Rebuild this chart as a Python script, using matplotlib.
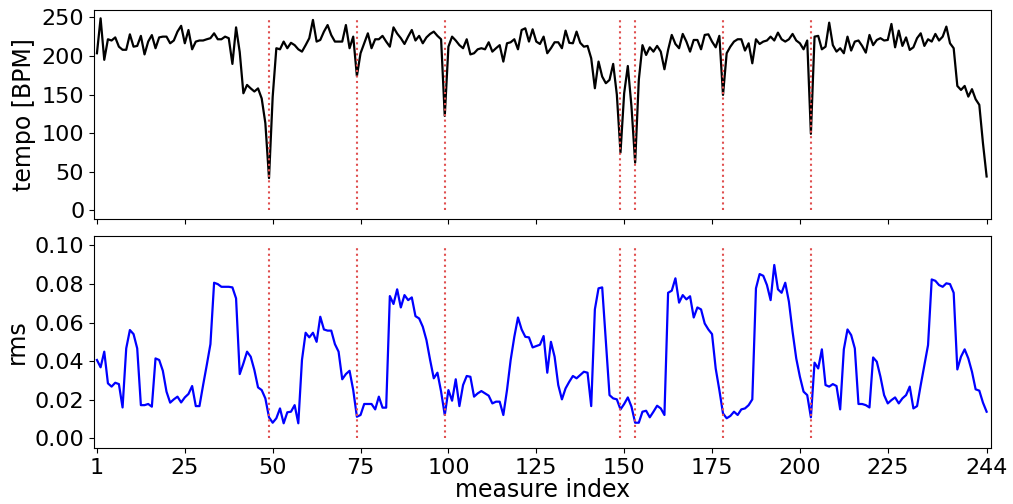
import matplotlib
matplotlib.use("Agg")
import matplotlib.pyplot as plt
import numpy as np

# Tempo per measure (BPM)
tempo = [
    203.5, 248.7, 195, 221.6, 220, 224, 212, 208, 208, 228,
    212, 213, 226, 202, 218.6, 227, 210, 224, 225, 225,
    216.4, 220, 231.5, 239, 216.4, 233.6, 208.6, 218.6, 220, 220,
    221.6, 223, 229.3, 221.6, 221.6, 225, 223, 189.7, 237, 205,
    151.7, 162.5, 158, 154, 158, 145, 113, 41.9, 147, 210,
    208.6, 218.6, 210, 217, 214, 208.6, 205.6, 214, 223, 246.6,
    218.6, 220.7, 231.5, 240, 227, 218.6, 218.6, 218.6, 240, 210,
    225, 174, 203.5, 216.4, 229.3, 210, 221.6, 221.6, 226, 218.6,
    212, 237, 229, 223, 215.5, 225, 233.6, 220, 226, 216.4,
    224, 228.5, 231.5, 226, 221.6, 122.4, 212, 225, 220, 214,
    210, 221.6, 202, 203.5, 208.6, 210, 208.6, 217.7, 205.6, 210,
    214, 192.7, 216.4, 217.7, 221.6, 208.6, 233.6, 235.8, 218.6, 234.5,
    218.6, 215.5, 225, 203.5, 210, 217.7, 217.7, 210, 232.8, 217,
    216.4, 231.5, 217, 212, 213, 197, 158.2, 192.7, 173.3, 164.7,
    169, 189.7, 150, 75, 151.7, 187, 134.5, 62, 169, 214,
    201.3, 211.2, 205.6, 213, 205.6, 182.8, 207.8, 227.2, 215.5, 210,
    228.5, 218.6, 205.6, 220.7, 220.7, 208.6, 227.2, 228, 218.6, 211.2,
    226, 149.6, 203.5, 212, 218.6, 221.6, 221.6, 207, 216.4, 190.5,
    221.6, 215.5, 218.6, 220, 225, 220, 230.2, 221.6, 218.6, 221.6,
    228.5, 220, 216.4, 208.6, 220, 99.2, 225, 226, 208.6, 212,
    243.1, 214, 205.6, 210, 203.5, 225, 207, 218.6, 220, 213,
    204.3, 227.2, 214, 220.7, 223, 220, 220.7, 241.4, 211.2, 232.8,
    213, 224, 207.8, 211.2, 223, 229.3, 213, 221.6, 218.6, 228.5,
    220, 225, 238, 216.4, 210, 161.2, 156, 161.2, 147.4, 157,
    144, 136.7, 87, 44,
]

# RMS loudness per measure
rms = [
    0.0406, 0.0368, 0.0449, 0.0285, 0.0268, 0.0288, 0.0281, 0.0160, 0.0466, 0.0561,
    0.0540, 0.0466, 0.0172, 0.0172, 0.0178, 0.0164, 0.0414, 0.0406, 0.0350, 0.0242,
    0.0185, 0.0202, 0.0216, 0.0186, 0.0212, 0.0230, 0.0271, 0.0167, 0.0167, 0.0276,
    0.0380, 0.0488, 0.0806, 0.0799, 0.0785, 0.0785, 0.0785, 0.0782, 0.0725, 0.0333,
    0.0388, 0.0449, 0.0423, 0.0354, 0.0264, 0.0250, 0.0207, 0.0109, 0.0081, 0.0104,
    0.0155, 0.0078, 0.0135, 0.0138, 0.0172, 0.0078, 0.0406, 0.0547, 0.0523, 0.0547,
    0.0500, 0.0630, 0.0564, 0.0558, 0.0558, 0.0488, 0.0449, 0.0306, 0.0333, 0.0350,
    0.0250, 0.0112, 0.0121, 0.0178, 0.0178, 0.0178, 0.0150, 0.0216, 0.0159, 0.0159,
    0.0737, 0.0696, 0.0772, 0.0678, 0.0742, 0.0716, 0.0730, 0.0633, 0.0621, 0.0578,
    0.0509, 0.0406, 0.0311, 0.0340, 0.0242, 0.0121, 0.0250, 0.0195, 0.0306, 0.0167,
    0.0276, 0.0323, 0.0319, 0.0216, 0.0233, 0.0245, 0.0233, 0.0221, 0.0181, 0.0190,
    0.0190, 0.0121, 0.0250, 0.0406, 0.0526, 0.0626, 0.0564, 0.0526, 0.0523, 0.0471,
    0.0478, 0.0485, 0.0530, 0.0340, 0.0500, 0.0423, 0.0276, 0.0202, 0.0259, 0.0293,
    0.0323, 0.0311, 0.0328, 0.0345, 0.0340, 0.0167, 0.0668, 0.0777, 0.0782, 0.0500,
    0.0224, 0.0207, 0.0202, 0.0150, 0.0178, 0.0212, 0.0164, 0.0081, 0.0081, 0.0138,
    0.0143, 0.0109, 0.0138, 0.0169, 0.0155, 0.0121, 0.0754, 0.0765, 0.0829, 0.0703,
    0.0742, 0.0720, 0.0736, 0.0626, 0.0678, 0.0668, 0.0595, 0.0564, 0.0540, 0.0362,
    0.0250, 0.0129, 0.0104, 0.0116, 0.0138, 0.0121, 0.0150, 0.0155, 0.0172, 0.0202,
    0.0777, 0.0851, 0.0842, 0.0794, 0.0716, 0.0898, 0.0772, 0.0754, 0.0806, 0.0708,
    0.0552, 0.0414, 0.0319, 0.0242, 0.0224, 0.0109, 0.0392, 0.0362, 0.0461, 0.0276,
    0.0268, 0.0281, 0.0271, 0.0150, 0.0461, 0.0564, 0.0535, 0.0466, 0.0178, 0.0178,
    0.0172, 0.0160, 0.0419, 0.0397, 0.0319, 0.0224, 0.0181, 0.0198, 0.0212, 0.0181,
    0.0207, 0.0224, 0.0268, 0.0155, 0.0167, 0.0276, 0.0380, 0.0483, 0.0823, 0.0816,
    0.0794, 0.0785, 0.0803, 0.0799, 0.0754, 0.0357, 0.0423, 0.0461, 0.0414, 0.0345,
    0.0254, 0.0247, 0.0185, 0.0138,
]

# Section boundaries (0-based measure positions)
boundaries = [47, 71, 95, 143, 147, 171, 195]

# x-axis ticks: positions and their labels
tick_pos = [0, 24, 48, 72, 96, 120, 144, 168, 192, 216, 243]
tick_lbl = ["1", "25", "50", "75", "100", "125", "150", "175", "200", "225", "244"]

x = np.arange(len(tempo))
tick_fs = 16
label_fs = 17

fig = plt.figure(figsize=(10.13, 5.04), dpi=100)
ax1 = fig.add_axes([0.0928, 0.5655, 0.8855, 0.4147])
ax2 = fig.add_axes([0.0928, 0.1111, 0.8855, 0.4206], sharex=ax1)

ax1.plot(x, tempo, color="black", lw=1.6)
ax1.vlines(boundaries, 0, 250, colors="#e05050", linestyles=":", lw=1.5)
ax1.set_ylim(-11, 259.5)
ax1.set_yticks([0, 50, 100, 150, 200, 250])
ax1.set_ylabel("tempo [BPM]", fontsize=label_fs)
ax1.tick_params(labelsize=tick_fs, labelbottom=False)

ax2.plot(x, rms, color="blue", lw=1.6)
ax2.vlines(boundaries, 0, 0.1, colors="#e05050", linestyles=":", lw=1.5)
ax2.set_ylim(-0.005, 0.1048)
ax2.set_yticks([0.0, 0.02, 0.04, 0.06, 0.08, 0.10])
ax2.set_yticklabels(["0.00", "0.02", "0.04", "0.06", "0.08", "0.10"])
ax2.set_ylabel("rms", fontsize=label_fs)
ax2.set_xlabel("measure index", fontsize=label_fs, labelpad=0)
ax2.set_xticks(tick_pos)
ax2.set_xticklabels(tick_lbl)
ax2.set_xlim(-0.8, 244.2)
ax2.tick_params(labelsize=tick_fs)

fig.savefig("out.png", dpi=100)
